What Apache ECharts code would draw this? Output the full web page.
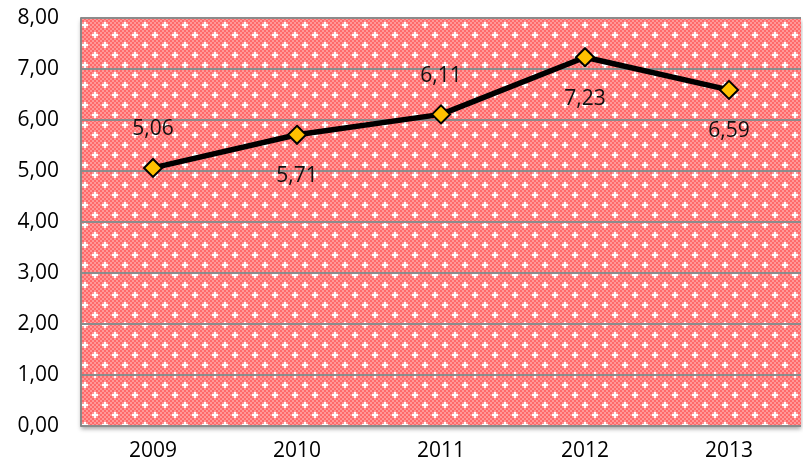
<!DOCTYPE html>
<html>
<head>
<meta charset="UTF-8">
<title>Line chart 2009-2013</title>
<script src="https://cdn.jsdelivr.net/npm/echarts@6/dist/echarts.min.js"></script>
<style>
  html, body { margin: 0; padding: 0; background: #fff; }
  #chart { width: 803px; height: 473px; }
</style>
</head>
<body>
<div id="chart"></div>
<script>
// data
var years = ['2009', '2010', '2011', '2012', '2013'];
var values = [5.06, 5.71, 6.11, 7.23, 6.59];
var labelSide = ['top', 'bottom', 'top', 'bottom', 'bottom'];

// dotted red fill like the spreadsheet pattern
function makePattern() {
    var c = document.createElement('canvas');
    c.width = 20; c.height = 20;
    var g = c.getContext('2d');
    g.fillStyle = '#ff6a6a';
    g.fillRect(0, 0, 20, 20);
    g.fillStyle = '#ff9898';
    for (var y = 0; y < 20; y += 2) {
        for (var x = (y / 2) % 2 ? 2 : 0; x < 20; x += 4) {
            g.fillRect(x, y, 2, 2);
        }
    }
    g.fillStyle = '#ffffff';
    [[5, 5], [15, 15]].forEach(function (p) {
        g.fillRect(p[0] - 1, p[1] - 3, 2, 6);
        g.fillRect(p[0] - 3, p[1] - 1, 6, 2);
    });
    return c;
}

var myChart = echarts.init(document.getElementById('chart'));
var option = {
    animation: false,
    grid: {
        left: 81, right: 2, top: 18, bottom: 47,
        show: true,
        borderWidth: 0,
        backgroundColor: { image: makePattern(), repeat: 'repeat' },
        shadowColor: 'rgba(0,0,0,0.35)',
        shadowBlur: 4,
        shadowOffsetY: 3
    },
    xAxis: {
        type: 'category',
        data: years,
        axisLine: { show: false },
        axisTick: { show: false },
        axisLabel: { color: '#000', fontSize: 21, fontFamily: 'Open Sans', margin: 15 }
    },
    yAxis: {
        type: 'value',
        min: 0, max: 8, interval: 1,
        axisLine: { show: true, lineStyle: { color: '#888', width: 2 } },
        axisTick: { show: false },
        axisLabel: {
            color: '#000', fontSize: 21, fontFamily: 'Open Sans', margin: 22,
            formatter: function (v) { return v.toFixed(2).replace('.', ','); }
        },
        splitLine: { lineStyle: { color: '#8c8c8c', width: 2 } }
    },
    series: [{
        type: 'line',
        data: values.map(function (v, i) {
            return {
                value: v,
                label: { position: labelSide[i], distance: labelSide[i] === 'top' ? 18 : 21 }
            };
        }),
        symbol: 'diamond',
        symbolSize: 18,
        lineStyle: { color: '#000', width: 5.5 },
        itemStyle: { color: '#ffc000', borderColor: '#000', borderWidth: 2 },
        label: {
            show: true,
            color: '#111',
            fontSize: 21,
            fontFamily: 'Open Sans',
            formatter: function (p) { return p.value.toFixed(2).replace('.', ','); }
        }
    }]
};
myChart.setOption(option);
</script>
</body>
</html>
